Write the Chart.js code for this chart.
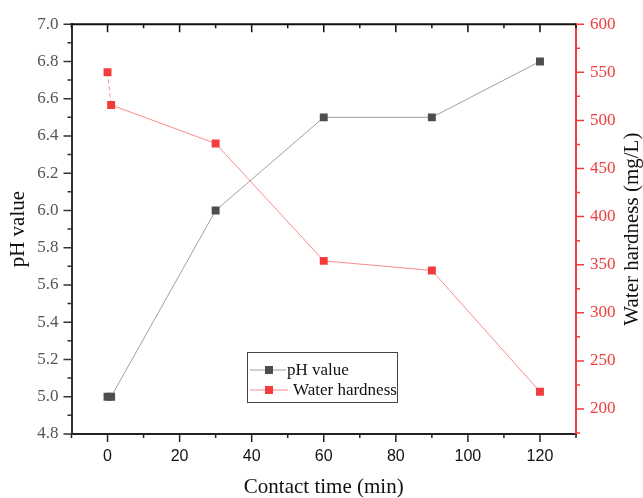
<!DOCTYPE html>
<html>
<head>
<meta charset="utf-8">
<script src="https://cdn.jsdelivr.net/npm/chart.js@4.4.1/dist/chart.umd.min.js"></script>
<style>
  html, body { margin: 0; padding: 0; background: #fff; }
  #wrap { width: 643px; height: 498px; position: relative; }
</style>
</head>
<body>
<div id="wrap"><canvas id="chart"></canvas></div>
<script>
// data
const times = [0, 1, 30, 60, 90, 120];
const phValues = [5.0, 5.0, 6.0, 6.5, 6.5, 6.8];
const hardness = [550, 516, 476, 354, 344, 218];

// axis ticks
const timeTicks = [0, 20, 40, 60, 80, 100, 120];
const phTicks = [4.8, 5.0, 5.2, 5.4, 5.6, 5.8, 6.0, 6.2, 6.4, 6.6, 6.8, 7.0];
const hardnessTicks = [200, 250, 300, 350, 400, 450, 500, 550, 600];

const SERIF = '"Liberation Serif", "Times New Roman", serif';
const SANS = '"Liberation Sans", Arial, sans-serif';
const RED = '#f23c3c';
const RIGHT_TITLE = 'Water hardness (mg/L)';

const toPts = ys => times.map((t, i) => ({ x: t, y: ys[i] }));
const setTicks = arr => scale => { scale.ticks = arr.map(v => ({ value: v })); };

// minor ticks halfway between majors, plus one beyond each end if it fits
function minors(arr, min, max) {
  const step = arr[1] - arr[0];
  const out = [];
  for (let v = arr[0] - step / 2; v <= arr[arr.length - 1] + step / 2 + 1e-9; v += step) {
    if (v >= min - 1e-9 && v <= max + 1e-9) out.push(v);
  }
  return out;
}

// axis frame, tick marks (major + minor), right title and the boxed legend
const framePlugin = {
  id: 'frame',
  afterDraw(chart) {
    const { ctx, chartArea: a, scales } = chart;
    const x = scales.x, yl = scales.y, yr = scales.y2;
    ctx.save();
    ctx.lineCap = 'butt';

    // top border
    ctx.strokeStyle = '#111';
    ctx.lineWidth = 2;
    ctx.beginPath(); ctx.moveTo(a.left - 1, a.top); ctx.lineTo(a.right, a.top); ctx.stroke();

    const mark = (color, list, len, fn) => {
      ctx.strokeStyle = color; ctx.lineWidth = 1.5;
      ctx.beginPath();
      list.forEach(v => fn(v, len));
      ctx.stroke();
    };
    const bottomFn = (v, len) => { const p = x.getPixelForValue(v); ctx.moveTo(p, a.bottom); ctx.lineTo(p, a.bottom + len); };
    const topFn = (v, len) => { const p = x.getPixelForValue(v); ctx.moveTo(p, a.top); ctx.lineTo(p, a.top + len); };
    const leftFn = (v, len) => { const p = yl.getPixelForValue(v); ctx.moveTo(a.left, p); ctx.lineTo(a.left - len, p); };
    const rightFn = (v, len) => { const p = yr.getPixelForValue(v); ctx.moveTo(a.right, p); ctx.lineTo(a.right + len, p); };

    const xMin = minors(timeTicks, x.min, x.max);
    mark('#222', timeTicks, 8, bottomFn);
    mark('#222', xMin, 4, bottomFn);
    mark('#111', timeTicks, 8, topFn);
    mark('#111', xMin, 4, topFn);
    mark('#333', phTicks, 8, leftFn);
    mark('#333', minors(phTicks, yl.min, yl.max), 4, leftFn);
    mark(RED, hardnessTicks, 8, rightFn);
    mark(RED, minors(hardnessTicks, yr.min, yr.max), 4, rightFn);

    // right axis title, reading bottom-to-top like the left one
    ctx.save();
    ctx.translate(632, (a.top + a.bottom) / 2);
    ctx.rotate(-Math.PI / 2);
    ctx.font = '21px ' + SERIF;
    ctx.fillStyle = '#111';
    ctx.textAlign = 'center';
    ctx.textBaseline = 'middle';
    ctx.fillText(RIGHT_TITLE, 0, 0);
    ctx.restore();

    // legend box
    const bx = 247, by = 352, bw = 150, bh = 50;
    ctx.fillStyle = '#fff';
    ctx.fillRect(bx, by, bw, bh);
    ctx.strokeStyle = '#444'; ctx.lineWidth = 1;
    ctx.strokeRect(bx + 0.5, by + 0.5, bw, bh);
    const rows = [
      { ds: chart.data.datasets[0], y: by + 18, lineEnd: bx + 39, tx: bx + 40 },
      { ds: chart.data.datasets[1], y: by + 38, lineEnd: bx + 41, tx: bx + 46 }
    ];
    ctx.font = '17px ' + SERIF;
    ctx.textBaseline = 'middle';
    rows.forEach(r => {
      ctx.strokeStyle = r.ds.borderColor; ctx.lineWidth = 1;
      ctx.beginPath(); ctx.moveTo(bx + 3, r.y); ctx.lineTo(r.lineEnd, r.y); ctx.stroke();
      ctx.fillStyle = r.ds.pointBackgroundColor;
      ctx.fillRect(bx + 18, r.y - 4, 8, 8);
      ctx.fillStyle = '#111';
      ctx.fillText(r.ds.label, r.tx, r.y + 1);
    });
    ctx.restore();
  }
};

new Chart(document.getElementById('chart'), {
  type: 'line',
  data: {
    datasets: [
      {
        label: 'pH value',
        data: toPts(phValues),
        yAxisID: 'y',
        borderColor: '#a0a0a0',
        borderWidth: 1,
        pointStyle: 'rect',
        pointRadius: 5.6,
        pointBorderWidth: 0,
        pointBackgroundColor: '#4d4d4d',
        pointBorderColor: '#4d4d4d',
        tension: 0
      },
      {
        label: 'Water hardness',
        data: toPts(hardness),
        yAxisID: 'y2',
        borderColor: '#f88c8c',
        borderWidth: 1,
        pointStyle: 'rect',
        pointRadius: 5.6,
        pointBorderWidth: 0,
        pointBackgroundColor: RED,
        pointBorderColor: RED,
        tension: 0,
        segment: { borderDash: c => c.p0DataIndex === 0 ? [4, 3] : undefined }
      }
    ]
  },
  options: {
    responsive: true,
    maintainAspectRatio: false,
    animation: false,
    layout: { padding: { top: 21, left: 0, right: 0, bottom: 0 } },
    plugins: { legend: { display: false }, tooltip: { enabled: false } },
    scales: {
      x: {
        type: 'linear', position: 'bottom', min: -10, max: 130,
        afterBuildTicks: setTicks(timeTicks),
        afterFit: s => { s.height = 64; },
        grid: { display: false, drawTicks: false },
        border: { display: true, color: '#222', width: 2 },
        ticks: { padding: 13, color: '#111', font: { family: SANS, size: 16 } },
        title: {
          display: true, text: 'Contact time (min)', color: '#111',
          font: { family: SERIF, size: 21, lineHeight: 1 }, padding: { top: 0, bottom: 0 }
        }
      },
      y: {
        type: 'linear', position: 'left', min: 4.8, max: 7.0,
        afterBuildTicks: setTicks(phTicks),
        afterFit: s => { s.width = 71.5; },
        grid: { display: false, drawTicks: false },
        border: { display: true, color: '#333', width: 2 },
        ticks: { padding: 13, color: '#555', font: { family: SERIF, size: 17 }, callback: v => v.toFixed(1) },
        title: {
          display: true, text: 'pH value', color: '#111',
          font: { family: SERIF, size: 21, lineHeight: 1 }, padding: { top: 8, bottom: 0 }
        }
      },
      y2: {
        type: 'linear', position: 'right', min: 174, max: 600,
        afterBuildTicks: setTicks(hardnessTicks),
        afterFit: s => { s.width = 67; },
        grid: { display: false, drawTicks: false },
        border: { display: true, color: RED, width: 2 },
        ticks: { padding: 14, color: RED, font: { family: SERIF, size: 17 } },
        title: { display: false }
      }
    }
  },
  plugins: [framePlugin]
});
</script>
</body>
</html>
